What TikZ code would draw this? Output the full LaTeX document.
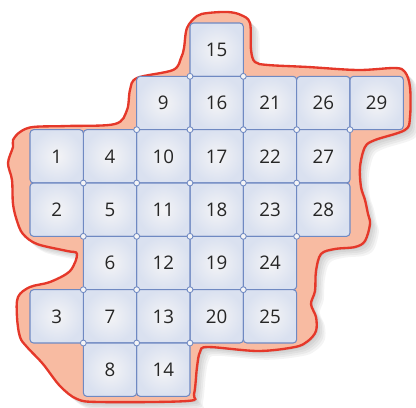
\documentclass[tikz,border=0pt]{standalone}
\usepackage{fontspec}
\setmainfont{Open Sans}
\usepackage{xcolor}
\usepackage{tikz}
\usetikzlibrary{positioning}

\definecolor{cellline}{HTML}{6F89C2}
\definecolor{cellin}{HTML}{F4F4F6}
\definecolor{cellout}{HTML}{DAE1F0}
\definecolor{blobfill}{HTML}{F8BBA2}
\definecolor{blobline}{HTML}{E5382A}
\definecolor{numtext}{HTML}{262626}

% outline of the salmon area, in pixel units
\def\blob{plot[smooth cycle, tension=0.55] coordinates {
  (13,140) (20,132) (33,127) (67,126) (115,124) (127,110) (130,90) (137,78)
  (173,70) (181,58) (184,48) (187,28) (197,16) (208,13) (228,12) (241,15)
  (250,23) (251,50) (255,62) (268,65) (308,67) (358,70) (395,68) (405,72)
  (410,87) (410,117) (405,130) (375,140) (365,147) (360,167) (361,187)
  (365,200) (368,214) (370,224) (365,241) (355,247) (335,249) (321,254)
  (316,271) (315,291) (311,304) (316,317) (316,331) (308,341) (295,347)
  (258,351) (208,347) (200,352) (197,367) (194,394) (187,401) (100,402)
  (77,399) (60,386) (43,364) (27,347) (20,337) (17,317) (18,297) (30,287)
  (50,282) (70,271) (77,254) (67,251) (37,244) (23,234) (17,221) (13,204)
  (12,180) (8,163) (13,147)}}

\begin{document}
\begin{tikzpicture}[
    x=0.03cm, y=-0.03cm,
    node distance=0pt,
    cell/.style={draw=cellline, line width=0.9pt, rectangle, rounded corners=3pt,
      minimum size=1.6cm, inner sep=0pt, outer sep=0pt, shading=radial,
      inner color=cellin, outer color=cellout, text=numtext,
      font=\fontsize{16}{18}\selectfont},
    joint/.style={draw=cellline, fill=cellin, circle, line width=0.7pt,
      minimum size=5pt, inner sep=0pt},
    blobedge/.style={draw=blobline, fill=blobfill, line width=2pt},
    blobshadow/.style={fill=black, opacity=0.045}
  ]
    \useasboundingbox (0,0) rectangle (416,407);

    % soft shadow and background area
    \fill[blobshadow, xshift=1.5pt, yshift=-1.5pt] \blob;
    \fill[blobshadow, xshift=3pt, yshift=-3pt] \blob;
    \fill[blobshadow, xshift=4.5pt, yshift=-4.5pt] \blob;
    \fill[blobshadow, xshift=6pt, yshift=-6pt] \blob;
    \fill[blobshadow, xshift=7.5pt, yshift=-7.5pt] \blob;
    \path[blobedge] \blob;

    % cells
    \node[cell] (n15) at (216.67,49.67) {15};
    \node[cell, below=of n15] (n16) {16};
    \node[cell, left=of n16] (n9) {9};
    \node[cell, right=of n16] (n21) {21};
    \node[cell, right=of n21] (n26) {26};
    \node[cell, right=of n26] (n29) {29};
    \node[cell, below=of n16] (n17) {17};
    \node[cell, left=of n17] (n10) {10};
    \node[cell, left=of n10] (n4) {4};
    \node[cell, left=of n4] (n1) {1};
    \node[cell, right=of n17] (n22) {22};
    \node[cell, right=of n22] (n27) {27};
    \node[cell, below=of n17] (n18) {18};
    \node[cell, left=of n18] (n11) {11};
    \node[cell, left=of n11] (n5) {5};
    \node[cell, left=of n5] (n2) {2};
    \node[cell, right=of n18] (n23) {23};
    \node[cell, right=of n23] (n28) {28};
    \node[cell, below=of n18] (n19) {19};
    \node[cell, left=of n19] (n12) {12};
    \node[cell, left=of n12] (n6) {6};
    \node[cell, right=of n19] (n24) {24};
    \node[cell, below=of n19] (n20) {20};
    \node[cell, left=of n20] (n13) {13};
    \node[cell, left=of n13] (n7) {7};
    \node[cell, left=of n7] (n3) {3};
    \node[cell, right=of n20] (n25) {25};
    \node[cell, below=of n13] (n14) {14};
    \node[cell, left=of n14] (n8) {8};

    % joints where three or four cells meet
    \node[joint] (j1) at (n15.south west) {};
    \node[joint] (j2) at (n15.south east) {};
    \node[joint] (j3) at (n9.south west) {};
    \node[joint] (j4) at (n9.south east) {};
    \node[joint] (j5) at (n16.south east) {};
    \node[joint] (j6) at (n21.south east) {};
    \node[joint] (j7) at (n26.south east) {};
    \node[joint] (j8) at (n1.south east) {};
    \node[joint] (j9) at (n4.south east) {};
    \node[joint] (j10) at (n10.south east) {};
    \node[joint] (j11) at (n17.south east) {};
    \node[joint] (j12) at (n22.south east) {};
    \node[joint] (j13) at (n2.south east) {};
    \node[joint] (j14) at (n5.south east) {};
    \node[joint] (j15) at (n11.south east) {};
    \node[joint] (j16) at (n18.south east) {};
    \node[joint] (j17) at (n23.south east) {};
    \node[joint] (j18) at (n6.south west) {};
    \node[joint] (j19) at (n6.south east) {};
    \node[joint] (j20) at (n12.south east) {};
    \node[joint] (j21) at (n19.south east) {};
    \node[joint] (j22) at (n7.south west) {};
    \node[joint] (j23) at (n7.south east) {};
    \node[joint] (j24) at (n13.south east) {};
  \end{tikzpicture}
\end{document}
